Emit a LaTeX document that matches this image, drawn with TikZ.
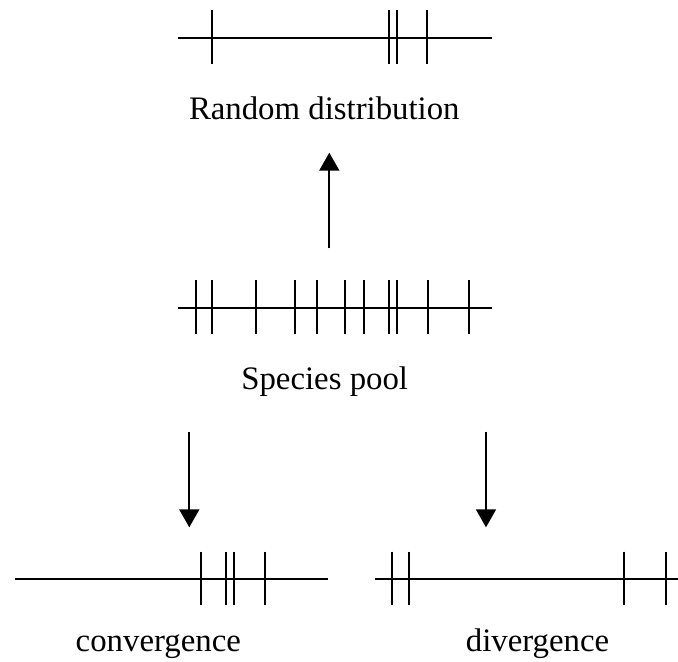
\documentclass[tikz,border=0pt]{standalone}
\usepackage{fontspec}
\setmainfont{Liberation Serif}
\usetikzlibrary{arrows.meta}
\begin{document}
\begin{tikzpicture}[x=0.5pt,y=-0.5pt,
  axisline/.style={line width=0.85pt},
  tick/.style={line width=0.85pt},
  label/.style={font=\fontsize{16.4pt}{19pt}\selectfont, anchor=base, inner sep=0pt},
  flow/.style={line width=0.85pt, -{Triangle[width=10pt,length=9pt]}}]
\useasboundingbox (0,0) rectangle (678,661);
% top: random distribution
\draw[axisline] (178,38) -- (492,38);
\foreach \x in {211.7,389,397.3,427.3} \draw[tick] (\x,10) -- (\x,64);
\node[label] (rd) at (324.3,119.3) {Random distribution};
% middle: species pool
\draw[axisline] (178,307.7) -- (492,307.7);
\foreach \x in {195.7,212,256.3,295.3,317.3,344.7,364.3,389,397.3,427.7,469.3} \draw[tick] (\x,280) -- (\x,334);
\node[label] (sp) at (324.7,389.3) {Species pool};
% bottom left: convergence
\draw[axisline] (15,579.3) -- (328.3,579.3);
\foreach \x in {201,226,234,265} \draw[tick] (\x,551.7) -- (\x,605);
\node[label] (cv) at (158.3,651) {convergence};
% bottom right: divergence
\draw[axisline] (375,579.3) -- (678,579.3);
\foreach \x in {392.3,409,624.3,665.7} \draw[tick] (\x,551.7) -- (\x,605);
\node[label] (dv) at (537.5,651) {divergence};
% arrows
\coordinate (upS) at (329.3,248.3);
\coordinate (upE) at (329.3,152.7);
\coordinate (lS) at (189.3,431.7);
\coordinate (lE) at (189.3,527.3);
\coordinate (rS) at (486,431.7);
\coordinate (rE) at (486,527.3);
\draw[flow] (upS) -- (upE);
\draw[flow] (lS) -- (lE);
\draw[flow] (rS) -- (rE);
\end{tikzpicture}
\end{document}
